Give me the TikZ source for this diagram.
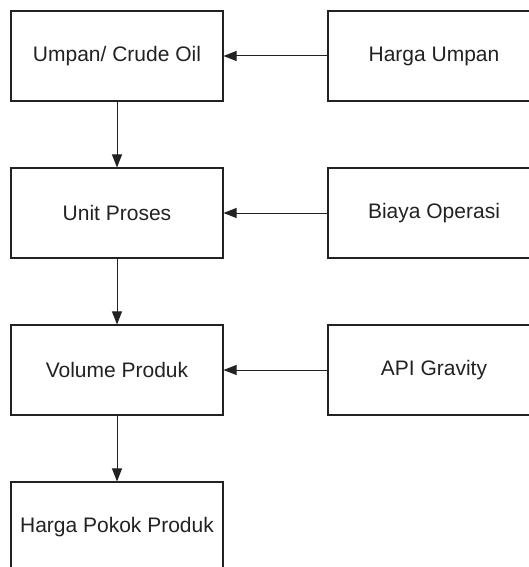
\documentclass[tikz,border=0pt]{standalone}
\usepackage{fontspec}
\setmainfont{Liberation Sans}
\usetikzlibrary{arrows.meta}
\definecolor{ink}{HTML}{222222}
\tikzset{
  box/.style={draw=ink, line width=1.1pt, minimum width=212pt, minimum height=90pt,
    inner sep=0pt, text=ink, font=\fontsize{21}{24}\selectfont},
  conn/.style={draw=ink, line width=1pt, -{Triangle[length=13pt,width=10pt]}}
}
\begin{document}
\begin{tikzpicture}[x=1pt,y=-1pt]
\useasboundingbox (0,0) rectangle (529,567);
\clip (0,0) rectangle (529,567);
\fill[white] (0,0) rectangle (529,567);
\node[box] (umpan)  at (117,56)  {Umpan/ Crude Oil};
\node[box] (unit)   at (117,213) {Unit Proses};
\node[box] (volume) at (117,370) {Volume Produk};
\node[box] (hpp)    at (117,527) {Harga Pokok Produk};
\node[box] (harga)  at (434,56)  {Harga Umpan};
\node[box] (biaya)  at (434,213) {Biaya Operasi};
\node[box] (api)    at (434,370) {API Gravity};
\draw[conn] (harga) -- (umpan);
\draw[conn] (biaya) -- (unit);
\draw[conn] (api) -- (volume);
\draw[conn] (umpan) -- (unit);
\draw[conn] (unit) -- (volume);
\draw[conn] (volume) -- (hpp);
\end{tikzpicture}
\end{document}
